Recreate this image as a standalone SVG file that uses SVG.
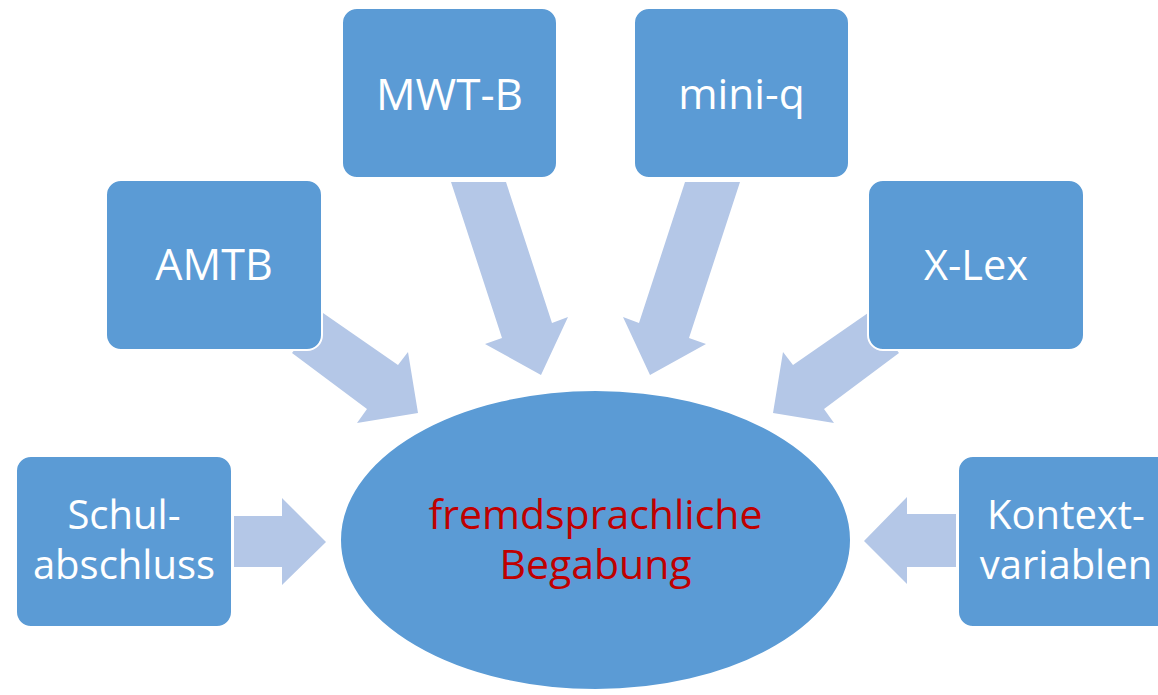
<svg xmlns="http://www.w3.org/2000/svg" width="1158" height="695" viewBox="0 0 1158 695">
<style>
.box{fill:#5B9BD5;stroke:#FFFFFF;stroke-width:2}
.arrow{fill:#B4C7E7}
.lbl{font-family:"Open Sans","Noto Sans",sans-serif;font-size:40px;fill:#FFFFFF;text-anchor:middle}
.main{font-family:"Open Sans","Noto Sans",sans-serif;font-size:41px;fill:#C00000;text-anchor:middle}
</style>
<rect width="1158" height="695" fill="#FFFFFF"/>
<g id="connectors">
<polygon class="arrow" points="323,313 398,365 408,352 418,413 357,423 367,409 292,353"/>
<polygon class="arrow" points="868,313 793,365 783,352 773,413 834,423 824,409 899,353"/>
<polygon class="arrow" points="451,182 506,182 552,323 568,317 541,375 485,344 502,338"/>
<polygon class="arrow" points="740,182 685,182 639,323 623,317 650,375 706,344 689,338"/>
<polygon class="arrow" points="234,516 282,516 282,498 326,542 282,585 282,567 234,567"/>
<polygon class="arrow" points="956,514 907,514 907,497 864,541 907,584 907,567 956,567"/>
</g>
<g id="node-amtb">
<rect class="box" x="106" y="180" width="216" height="170" rx="15"/>
<text class="lbl" x="214" y="280" style="font-size:43px">AMTB</text>
</g>
<g id="node-mwtb">
<rect class="box" x="342" y="8" width="215" height="170" rx="15"/>
<text class="lbl" x="449.5" y="110" style="font-size:44px">MWT-B</text>
</g>
<g id="node-miniq">
<rect class="box" x="634" y="8" width="215" height="170" rx="15"/>
<text class="lbl" x="741.5" y="109" style="font-size:42.5px">mini-q</text>
</g>
<g id="node-xlex">
<rect class="box" x="868" y="180" width="216" height="170" rx="15"/>
<text class="lbl" x="976" y="280" style="font-size:41.5px">X-Lex</text>
</g>
<g id="node-schul">
<rect class="box" x="16" y="456" width="216" height="171" rx="15"/>
<text class="lbl" x="124" y="529">Schul-</text>
<text class="lbl" x="124" y="579">abschluss</text>
</g>
<g id="node-kontext">
<rect class="box" x="958" y="456" width="216" height="171" rx="15"/>
<text class="lbl" x="1066" y="529">Kontext-</text>
<text class="lbl" x="1066" y="579">variablen</text>
</g>
<g id="node-center">
<ellipse cx="595.5" cy="540" rx="255.5" ry="150" fill="#5B9BD5" stroke="#FFFFFF" stroke-width="2"/>
<text class="main" x="595.5" y="529">fremdsprachliche</text>
<text class="main" x="595.5" y="579">Begabung</text>
</g>
</svg>
